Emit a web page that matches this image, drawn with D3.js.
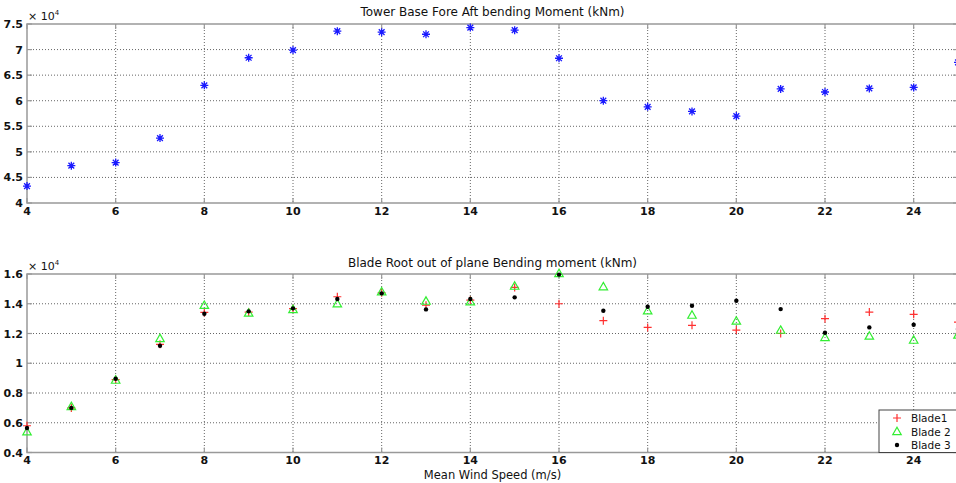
<!DOCTYPE html>
<html>
<head>
<meta charset="utf-8">
<script src="https://cdn.jsdelivr.net/npm/d3@7"></script>
<style>
  html, body { margin: 0; padding: 0; background: #fff; }
  svg { display: block; }
  text { font-family: "DejaVu Sans", "Liberation Sans", sans-serif; fill: #111; }
</style>
</head>
<body>
<svg id="chart" width="956" height="483"></svg>
<script>
// Mean wind speed bins (m/s)
const windSpeed = [4,5,6,7,8,9,10,11,12,13,14,15,16,17,18,19,20,21,22,23,24,25];

// Tower base fore-aft bending moment (kNm)
const towerMoment = [43300,47300,47900,52700,63000,68400,69900,73600,73400,73000,74300,73800,68300,60000,58800,57900,57000,62300,61700,62400,62600,67500];

// Blade root out-of-plane bending moment (kNm)
const blade1 = [5800,7000,8900,11270,13420,13440,13670,14470,14740,13900,14250,15100,14000,12860,12410,12550,12230,12000,13000,13440,13290,12770];
const blade2 = [5400,7100,8870,11670,13900,13380,13620,14000,14810,14180,14140,15190,16040,15150,13530,13240,12840,12230,11740,11830,11560,11900];
const blade3 = [5650,7000,8960,11180,13330,13490,13690,14320,14700,13620,14320,14430,15960,13530,13800,13870,14200,13640,12050,12410,12590,12300];

// Axis tick values
const xTicks = [4,6,8,10,12,14,16,18,20,22,24];
const towerTicks = [40000,45000,50000,55000,60000,65000,70000,75000];
const bladeTicks = [4000,6000,8000,10000,12000,14000,16000];

const svg = d3.select("#chart");
const left = 27, right = 958;
const x = d3.scaleLinear().domain([4, 25]).range([left, right]);
const fmt = v => d3.format("~g")(v / 1e4);

function drawAxes(y, yTicks, top, bottom, titleText, titleY, tickLabelY) {
  const g = svg.append("g");
  // dotted grid
  g.selectAll(".vg").data(xTicks.filter(d => d > 4)).join("line")
    .attr("x1", d => x(d)).attr("x2", d => x(d))
    .attr("y1", top).attr("y2", bottom)
    .attr("stroke", "#666").attr("stroke-width", 1).attr("stroke-dasharray", "1,2");
  g.selectAll(".hg").data(yTicks.slice(1, -1)).join("line")
    .attr("x1", left).attr("x2", right)
    .attr("y1", d => y(d)).attr("y2", d => y(d))
    .attr("stroke", "#666").attr("stroke-width", 1).attr("stroke-dasharray", "1,2");
  // inward ticks
  g.selectAll(".tb").data(xTicks).join("line")
    .attr("x1", d => x(d)).attr("x2", d => x(d))
    .attr("y1", bottom).attr("y2", bottom - 5)
    .attr("stroke", "#999").attr("stroke-width", 1.2);
  g.selectAll(".tt").data(xTicks).join("line")
    .attr("x1", d => x(d)).attr("x2", d => x(d))
    .attr("y1", top).attr("y2", top + 5)
    .attr("stroke", "#999").attr("stroke-width", 1.2);
  g.selectAll(".tl").data(yTicks).join("line")
    .attr("x1", left).attr("x2", left + 5)
    .attr("y1", d => y(d)).attr("y2", d => y(d))
    .attr("stroke", "#999").attr("stroke-width", 1.2);
  g.selectAll(".tr").data(yTicks).join("line")
    .attr("x1", right).attr("x2", right - 5)
    .attr("y1", d => y(d)).attr("y2", d => y(d))
    .attr("stroke", "#999").attr("stroke-width", 1.2);
  // box
  g.append("rect").attr("x", left).attr("y", top)
    .attr("width", right - left).attr("height", bottom - top)
    .attr("fill", "none").attr("stroke", "#999").attr("stroke-width", 1.5);
  // tick labels
  g.selectAll(".xl").data(xTicks).join("text")
    .attr("x", d => x(d)).attr("y", tickLabelY)
    .attr("text-anchor", "middle").attr("font-size", 11).attr("font-weight", "bold")
    .text(d => d);
  g.selectAll(".yl").data(yTicks).join("text")
    .attr("x", 23).attr("y", d => y(d) + 4)
    .attr("text-anchor", "end").attr("font-size", 11).attr("font-weight", "bold")
    .text(fmt);
  // exponent
  const ex = g.append("text").attr("x", left + 1).attr("y", top - 4).attr("font-size", 11);
  ex.append("tspan").text("\u00d7 10");
  ex.append("tspan").attr("dy", -5).attr("font-size", 7).text("4");
  // title
  g.append("text").attr("x", (left + right) / 2).attr("y", titleY)
    .attr("text-anchor", "middle").attr("font-size", 12).text(titleText);
  return g;
}

// ---- Tower base panel ----
const yT = d3.scaleLinear().domain([40000, 75000]).range([203, 24]);
const gT = drawAxes(yT, towerTicks, 24, 203, "Tower Base Fore Aft bending Moment (kNm)", 16, 215);

const star = d3.symbol().type({
  draw(ctx, size) {
    const r = Math.sqrt(size) / 2;
    const d = r * 0.72;
    ctx.moveTo(-r, 0); ctx.lineTo(r, 0);
    ctx.moveTo(0, -r); ctx.lineTo(0, r);
    ctx.moveTo(-d, -d); ctx.lineTo(d, d);
    ctx.moveTo(-d, d); ctx.lineTo(d, -d);
  }
}).size(64);

gT.selectAll(".tm").data(windSpeed.map((w, i) => [w, towerMoment[i]])).join("path")
  .attr("d", star)
  .attr("transform", d => `translate(${x(d[0])},${yT(d[1])})`)
  .attr("fill", "none").attr("stroke", "#1a1aff").attr("stroke-width", 1.3);

// ---- Blade root panel ----
const yB = d3.scaleLinear().domain([4000, 16000]).range([452.5, 274]);
const gB = drawAxes(yB, bladeTicks, 274, 452.5, "Blade Root out of plane Bending moment (kNm)", 267, 464);

const plus = d3.symbol().type({
  draw(ctx, size) {
    const r = Math.sqrt(size) / 2;
    ctx.moveTo(-r, 0); ctx.lineTo(r, 0);
    ctx.moveTo(0, -r); ctx.lineTo(0, r);
  }
}).size(64);
const tri = d3.symbol().type({
  draw(ctx, size) {
    const r = Math.sqrt(size) / 2;
    ctx.moveTo(0, -r);
    ctx.lineTo(r, r * 0.75);
    ctx.lineTo(-r, r * 0.75);
    ctx.closePath();
  }
}).size(72);

const pts = arr => windSpeed.map((w, i) => [w, arr[i]]);

gB.selectAll(".b1").data(pts(blade1)).join("path")
  .attr("d", plus)
  .attr("transform", d => `translate(${x(d[0])},${yB(d[1])})`)
  .attr("fill", "none").attr("stroke", "#ff3030").attr("stroke-width", 1.2);
gB.selectAll(".b2").data(pts(blade2)).join("path")
  .attr("d", tri)
  .attr("transform", d => `translate(${x(d[0])},${yB(d[1])})`)
  .attr("fill", "none").attr("stroke", "#33ee33").attr("stroke-width", 1.2);
gB.selectAll(".b3").data(pts(blade3)).join("circle")
  .attr("cx", d => x(d[0])).attr("cy", d => yB(d[1])).attr("r", 2.2)
  .attr("fill", "#000");

// x label
svg.append("text").attr("x", (left + right) / 2).attr("y", 478.5)
  .attr("text-anchor", "middle").attr("font-size", 11.5).text("Mean Wind Speed (m/s)");

// legend
const legend = svg.append("g");
legend.append("rect").attr("x", 879).attr("y", 410).attr("width", 90).attr("height", 42.5)
  .attr("fill", "#fff").attr("stroke", "#444").attr("stroke-width", 1);
const entries = [
  { name: "Blade1", sym: "plus" },
  { name: "Blade 2", sym: "tri" },
  { name: "Blade 3", sym: "dot" }
];
const ly = d3.scaleLinear().domain([0, 2]).range([418, 445]);
entries.forEach((e, i) => {
  const cy = ly(i);
  if (e.sym === "plus") {
    legend.append("path").attr("d", plus).attr("transform", `translate(897,${cy})`)
      .attr("fill", "none").attr("stroke", "#ff3030").attr("stroke-width", 1.2);
  } else if (e.sym === "tri") {
    legend.append("path").attr("d", tri).attr("transform", `translate(897,${cy})`)
      .attr("fill", "none").attr("stroke", "#33ee33").attr("stroke-width", 1.2);
  } else {
    legend.append("circle").attr("cx", 897).attr("cy", cy).attr("r", 2.2).attr("fill", "#000");
  }
  legend.append("text").attr("x", 911).attr("y", cy + 4).attr("font-size", 10.5)
    .text(e.name);
});
</script>
</body>
</html>
